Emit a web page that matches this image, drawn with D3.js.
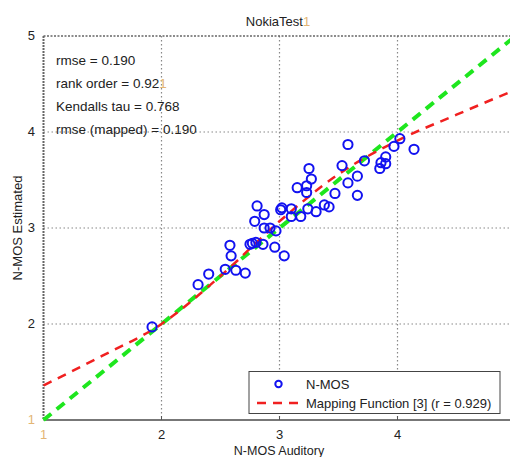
<!DOCTYPE html>
<html>
<head>
<meta charset="UTF-8">
<script src="https://d3js.org/d3.v7.min.js"></script>
<style>
  body { margin: 0; background: #fff; font-family: Arial, "Liberation Sans", sans-serif; }
  svg text { font-family: Arial, "Liberation Sans", sans-serif; fill: #222; }
</style>
</head>
<body>
<svg id="chart" width="510" height="457"></svg>
<script>
// measured pairs: [auditory, estimated]
const auditory = [1.92, 2.31, 2.40, 2.54, 2.63, 2.71, 2.59, 2.58, 2.75, 2.77, 2.80, 2.86, 2.96, 3.04,
  2.79, 2.81, 2.87, 2.87, 2.92, 2.97, 3.01, 3.02, 3.10, 3.10, 3.18, 3.24, 3.31, 3.15, 3.23, 3.23,
  3.27, 3.25, 3.38, 3.42, 3.47, 3.53, 3.58, 3.66, 3.66, 3.58, 3.72, 3.85, 3.86, 3.90, 3.90, 3.97, 4.02, 4.14];
const estimated = [1.97, 2.41, 2.52, 2.57, 2.56, 2.53, 2.71, 2.82, 2.83, 2.84, 2.85, 2.83, 2.80, 2.71,
  3.07, 3.23, 3.14, 3.00, 3.00, 2.97, 3.19, 3.21, 3.20, 3.12, 3.12, 3.20, 3.17, 3.42, 3.44, 3.37,
  3.51, 3.62, 3.24, 3.22, 3.36, 3.65, 3.47, 3.34, 3.54, 3.87, 3.70, 3.62, 3.68, 3.74, 3.67, 3.85, 3.93, 3.82];

// mapping function curve
const mapX = [1.0, 1.5, 2.0, 2.5, 3.0, 3.5, 4.0, 4.5, 5.0];
const mapY = [1.36, 1.67, 2.00, 2.50, 3.07, 3.56, 3.91, 4.18, 4.44];

// identity line
const diagonal = [1, 5];

const ticks = [1, 2, 3, 4, 5];
const stats = ['rmse = 0.190', 'rank order = 0.92|1', 'Kendalls tau = 0.768', 'rmse (mapped) = 0.190'];

const svg = d3.select('#chart');
const x = d3.scaleLinear().domain([1, 5]).range([43.5, 515.5]);
const y = d3.scaleLinear().domain([1, 5]).range([420, 36]);

const fade = '#e3b574';

// grid
const g = svg.append('g');
g.selectAll('.vgrid').data(ticks.slice(1, 4)).enter().append('line')
  .attr('x1', d => x(d)).attr('x2', d => x(d)).attr('y1', y(5)).attr('y2', y(1))
  .attr('stroke', '#888').attr('stroke-width', 1.2).attr('stroke-dasharray', '1.5,2.5');
g.selectAll('.hgrid').data(ticks.slice(1, 4)).enter().append('line')
  .attr('x1', x(1)).attr('x2', 510).attr('y1', d => y(d)).attr('y2', d => y(d))
  .attr('stroke', '#888').attr('stroke-width', 1.2).attr('stroke-dasharray', '1.5,2.5');

// frame
g.append('line').attr('x1', x(1)).attr('x2', 510).attr('y1', y(5)).attr('y2', y(5))
  .attr('stroke', '#666').attr('stroke-width', 1.5).attr('stroke-dasharray', '2,1.5');
g.append('line').attr('x1', x(1)).attr('x2', x(1)).attr('y1', y(5)).attr('y2', y(1))
  .attr('stroke', '#666').attr('stroke-width', 2).attr('stroke-dasharray', '2,1');
g.append('line').attr('x1', x(1)).attr('x2', 510).attr('y1', y(1)).attr('y2', y(1))
  .attr('stroke', '#777').attr('stroke-width', 1.8);

// ticks
g.selectAll('.xt').data(ticks.slice(1, 4)).enter().append('line')
  .attr('x1', d => x(d)).attr('x2', d => x(d)).attr('y1', y(1)).attr('y2', y(1) - 4)
  .attr('stroke', '#555');

// tick labels
svg.selectAll('.xl').data(ticks.slice(0, 4)).enter().append('text')
  .attr('x', d => x(d)).attr('y', 439).attr('text-anchor', 'middle')
  .style('font-size', '13px').style('fill', d => d === 1 ? fade : '#222')
  .text(d => d);
svg.selectAll('.yl').data(ticks).enter().append('text')
  .attr('x', 35).attr('y', d => y(d) + 4).attr('text-anchor', 'end')
  .style('font-size', '13px').style('fill', d => d === 1 ? fade : '#222')
  .text(d => d);

// axis titles
svg.append('text').attr('x', 279).attr('y', 455).attr('text-anchor', 'middle')
  .style('font-size', '12.5px').text('N-MOS Auditory');
svg.append('text').attr('transform', `translate(22,${y(3)}) rotate(-90)`)
  .attr('text-anchor', 'middle').style('font-size', '13px').text('N-MOS Estimated');

// title
const title = svg.append('text').attr('x', 278).attr('y', 26).attr('text-anchor', 'middle')
  .style('font-size', '13px');
title.append('tspan').text('NokiaTest');
title.append('tspan').style('fill', fade).text('1');

// stats
stats.forEach((s, i) => {
  const parts = s.split('|');
  const t = svg.append('text').attr('x', 56).attr('y', 65 + i * 23).style('font-size', '13.5px');
  t.append('tspan').text(parts[0]);
  if (parts[1]) t.append('tspan').style('fill', fade).text(parts[1]);
});

// identity line
svg.append('line')
  .attr('x1', x(diagonal[0])).attr('y1', y(diagonal[0]))
  .attr('x2', x(diagonal[1])).attr('y2', y(diagonal[1]))
  .attr('stroke', '#1ee61e').attr('stroke-width', 4).attr('stroke-dasharray', '10,7');

// mapping curve
const line = d3.line().x(d => x(d[0])).y(d => y(d[1])).curve(d3.curveMonotoneX);
svg.append('path').datum(mapX.map((v, i) => [v, mapY[i]]))
  .attr('d', line).attr('fill', 'none')
  .attr('stroke', '#f02020').attr('stroke-width', 2.5).attr('stroke-dasharray', '9,7');

// points
svg.selectAll('.pt').data(auditory.map((v, i) => [v, estimated[i]])).enter().append('circle')
  .attr('cx', d => x(d[0])).attr('cy', d => y(d[1])).attr('r', 4.6)
  .attr('fill', 'none').attr('stroke', '#1212f0').attr('stroke-width', 2);

// legend
const lg = svg.append('g');
lg.append('rect').attr('x', 249).attr('y', 371.5).attr('width', 251).attr('height', 42)
  .attr('fill', '#fff').attr('stroke', '#444').attr('stroke-width', 1);
lg.append('circle').attr('cx', 278.5).attr('cy', 384).attr('r', 3.2)
  .attr('fill', 'none').attr('stroke', '#1212f0').attr('stroke-width', 2);
lg.append('text').attr('x', 306).attr('y', 388.5).style('font-size', '13px').text('N-MOS');
lg.append('line').attr('x1', 257).attr('x2', 301).attr('y1', 403).attr('y2', 403)
  .attr('stroke', '#f02020').attr('stroke-width', 2.5).attr('stroke-dasharray', '9,7');
lg.append('text').attr('x', 306).attr('y', 408).style('font-size', '13px')
  .text('Mapping Function [3] (r = 0.929)');
</script>
</body>
</html>
